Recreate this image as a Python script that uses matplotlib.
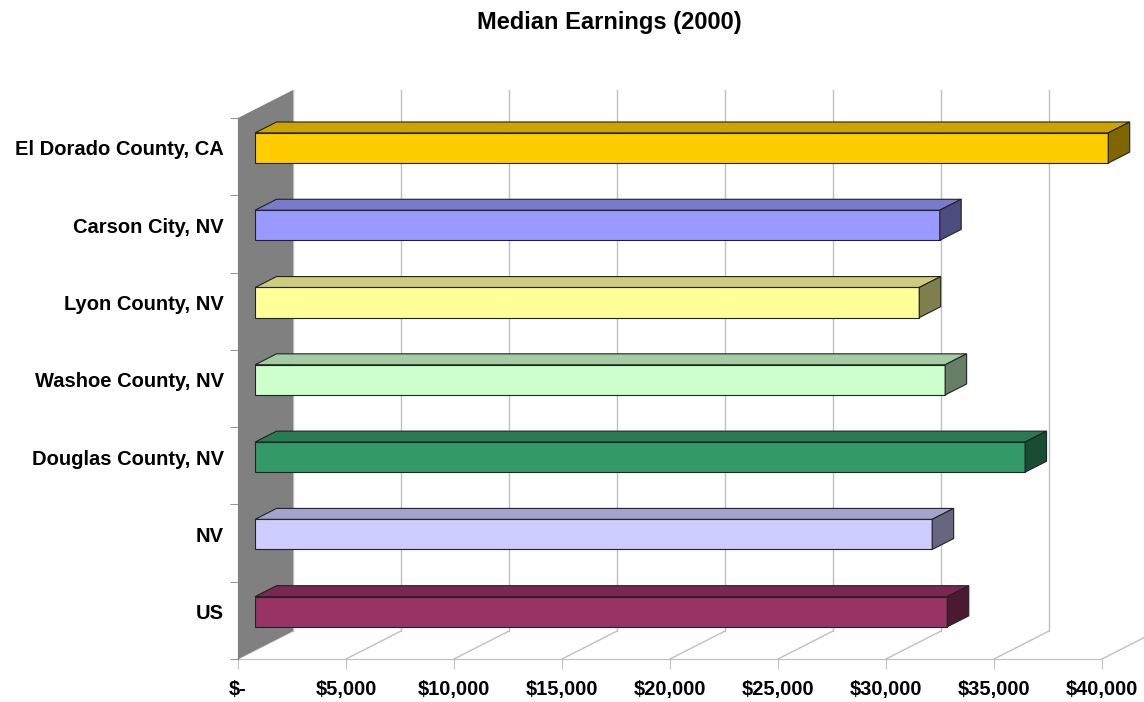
import matplotlib.pyplot as plt
from matplotlib.patches import Polygon

plt.rcParams['font.family'] = ['Liberation Sans', 'DejaVu Sans']

# data, top to bottom as shown
categories = ['El Dorado County, CA', 'Carson City, NV', 'Lyon County, NV',
              'Washoe County, NV', 'Douglas County, NV', 'NV', 'US']
earnings = [39500, 31700, 30750, 31950, 35650, 31350, 32050]
front_colors = ['#FFCC00', '#9999FF', '#FFFF99', '#CCFFCC', '#339966', '#CCCCFF', '#993366']
tick_values = list(range(0, 40001, 5000))
tick_labels = ['$-'] + ['${:,}'.format(v) for v in tick_values[1:]]


def shade(hex_color, k):
    r, g, b = (int(hex_color[i:i + 2], 16) for i in (1, 3, 5))
    return '#{:02x}{:02x}{:02x}'.format(int(r * k), int(g * k), int(b * k))


# 3d depth offsets in data units
dx = 2546      # ~55 px
dy = 0.362     # ~28 px
f1, f2 = 0.31, 0.70
bar_h = 0.39
n = len(categories)

fig = plt.figure(figsize=(11.44, 7.02), dpi=100, facecolor='white')
ax = fig.add_axes([238 / 1144, 43 / 702, 864 / 1144, 541 / 702])
ax.set_xlim(0, 40000)
ax.set_ylim(0, n)
for s in ['top', 'right']:
    ax.spines[s].set_visible(False)
ax.spines['left'].set_color('#808080')
ax.spines['bottom'].set_color('#c0c0c0')
ax.spines['left'].set_zorder(3)

grid_c = '#c0c0c0'
# back wall gridlines and floor lines
for v in tick_values:
    ax.plot([v + dx, v + dx], [dy, n + dy], color=grid_c, lw=1, clip_on=False, zorder=1)
    ax.plot([v, v + dx], [0, dy], color=grid_c, lw=1, clip_on=False, zorder=1)

# side wall
wall = Polygon([(0, 0), (0, n), (dx, n + dy), (dx, dy)], closed=True,
               facecolor='#808080', edgecolor='none', clip_on=False, zorder=2)
ax.add_patch(wall)

ypos = [n - 1 - i + 0.5 + f1 * dy for i in range(n)]
for y, val, c in zip(ypos, earnings, front_colors):
    x0 = f1 * dx
    ax.barh(y, val, left=x0, height=bar_h, color=c, edgecolor='#222222', lw=0.8,
            zorder=4, clip_on=False)
    top = y + bar_h / 2
    bot = y - bar_h / 2
    ddx = (f2 - f1) * dx
    ddy = (f2 - f1) * dy
    ax.add_patch(Polygon([(x0, top), (x0 + val, top), (x0 + val + ddx, top + ddy), (x0 + ddx, top + ddy)],
                         closed=True, facecolor=shade(c, 0.8), edgecolor='#222222', lw=0.8,
                         clip_on=False, zorder=4))
    ax.add_patch(Polygon([(x0 + val, bot), (x0 + val, top), (x0 + val + ddx, top + ddy), (x0 + val + ddx, bot + ddy)],
                         closed=True, facecolor=shade(c, 0.5), edgecolor='#222222', lw=0.8,
                         clip_on=False, zorder=4))

ax.set_xticks(tick_values)
ax.set_xticklabels(tick_labels, fontsize=14.5, fontweight='bold')
ax.tick_params(axis='x', length=7, color='#c0c0c0', pad=8)

ax.set_yticks(ypos)
ax.set_yticklabels(categories, fontsize=14.5, fontweight='bold')
ax.tick_params(axis='y', length=0, pad=10)
ax.set_yticks(range(n + 1), minor=True)
ax.tick_params(axis='y', which='minor', length=6, color='#808080')

fig.text(609 / 1144, 1 - 22 / 702, 'Median Earnings (2000)', ha='center', va='center',
         fontsize=17, fontweight='bold')

fig.savefig('out.png', dpi=100, facecolor='white')
